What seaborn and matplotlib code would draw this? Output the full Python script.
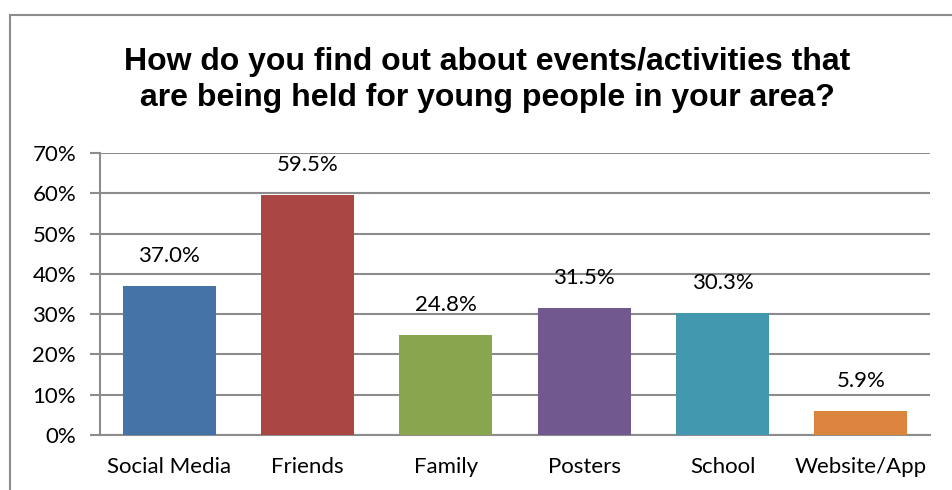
import matplotlib
matplotlib.use("Agg")
import matplotlib.pyplot as plt
from matplotlib.patches import Rectangle
from matplotlib.ticker import PercentFormatter
import seaborn as sns
import pandas as pd

# Survey results
categories = ["Social Media", "Friends", "Family", "Posters", "School", "Website/App"]
shares = [37.0, 59.5, 24.8, 31.5, 30.3, 5.9]
bar_colors = ["#4572A7", "#AA4643", "#89A54E", "#71588F", "#4198AF", "#DB843D"]
y_ticks = [0, 10, 20, 30, 40, 50, 60, 70]
title = "How do you find out about events/activities that\nare being held for young people in your area?"

df = pd.DataFrame({"source": categories, "share": shares})

sns.set_theme(style="white")
plt.rcParams["font.family"] = ["Lato", "DejaVu Sans"]

W, H = 952, 490
fig = plt.figure(figsize=(W / 100, H / 100), dpi=100)
ax = fig.add_axes([100 / W, (H - 435) / H, 830 / W, 282 / H])

sns.barplot(data=df, x="source", y="share", hue="source", palette=bar_colors,
            width=0.67, saturation=1, legend=False, linewidth=0, ax=ax, zorder=3)

grid_c = "#8c8c8c"
lab_size = 16
ax.set_ylim(0, 70)
ax.set_xlim(-0.5, len(categories) - 0.5)
ax.set_yticks(y_ticks)
ax.yaxis.set_major_formatter(PercentFormatter(decimals=0))
ax.yaxis.grid(True, color=grid_c, linewidth=1.5, zorder=0)
ax.set_axisbelow(True)
ax.set_xlabel("")
ax.set_ylabel("")

# category boundary ticks on the x axis
ax.set_xticks(range(len(categories)))
ax.set_xticklabels(categories)
ax.set_xticks([i - 0.5 for i in range(len(categories) + 1)], minor=True)
ax.tick_params(axis="x", which="major", length=0, pad=16, labelsize=lab_size, colors="black")
ax.tick_params(axis="x", which="minor", length=6, width=1.5, color=grid_c, direction="out")
ax.tick_params(axis="y", length=7.2, width=1.5, color=grid_c, direction="out",
               labelsize=lab_size, pad=10, colors="black", left=True)
for lab in ax.get_xticklabels() + ax.get_yticklabels():
    lab.set_color("black")

for side in ["top", "right"]:
    ax.spines[side].set_visible(False)
for side in ["left", "bottom"]:
    ax.spines[side].set_color(grid_c)
    ax.spines[side].set_linewidth(1.5)

# value labels above each bar
for i, v in enumerate(shares):
    ax.text(i, v + 5.0, f"{v:.1f}%", ha="center", va="bottom", fontsize=lab_size, color="black")

fig.text(487 / W, (H - 80) / H, title, ha="center", va="center", fontsize=23,
         fontweight="bold", family=["Liberation Sans", "DejaVu Sans"],
         linespacing=1.25, color="black")

# chart frame
fig.patches.append(Rectangle((10 / W, -0.1), 1.2, (H - 15) / H + 0.1,
                             transform=fig.transFigure, fill=False,
                             edgecolor="#8c8c8c", linewidth=1.5))

fig.savefig("out.png", dpi=100)
